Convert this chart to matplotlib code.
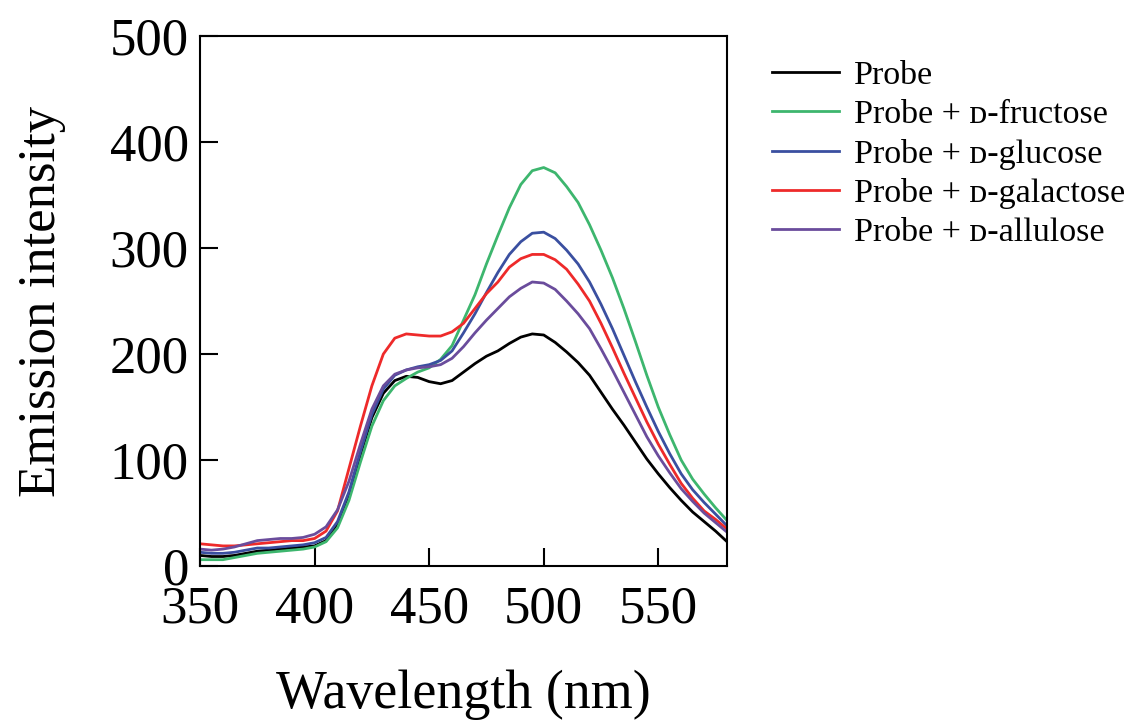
import matplotlib
matplotlib.use("Agg")
import matplotlib.pyplot as plt

plt.rcParams['font.family'] = ['Liberation Serif', 'DejaVu Serif']

wavelength = list(range(350, 581, 5))

probe = [10, 9, 9, 10, 12, 14, 15, 16, 17, 18, 19, 24, 40, 68, 105, 140, 163, 175,
         179, 178, 174, 172, 175, 183, 191, 198, 203, 210, 216, 219, 218, 211, 202,
         192, 180, 164, 148, 133, 117, 101, 87, 74, 62, 51, 42, 33, 23]
fructose = [6, 6, 6, 8, 10, 12, 13, 14, 15, 16, 18, 23, 36, 62, 98, 132, 156, 170,
            177, 183, 187, 195, 208, 232, 256, 285, 312, 338, 360, 373, 376, 371, 358,
            343, 322, 298, 272, 243, 212, 180, 150, 124, 100, 82, 68, 55, 43]
glucose = [13, 12, 12, 13, 15, 17, 17, 18, 19, 20, 22, 27, 42, 70, 108, 143, 167, 180,
           185, 188, 190, 194, 203, 220, 238, 258, 277, 294, 306, 314, 315, 309, 298,
           285, 268, 247, 224, 199, 174, 150, 127, 106, 87, 72, 60, 49, 38]
galactose = [21, 20, 19, 19, 20, 21, 22, 23, 24, 24, 26, 33, 52, 92, 132, 170, 200, 215,
             219, 218, 217, 217, 221, 229, 243, 257, 268, 282, 290, 294, 294, 289, 280,
             266, 250, 229, 206, 182, 159, 136, 115, 96, 78, 64, 52, 44, 35]
allulose = [16, 15, 16, 18, 21, 24, 25, 26, 26, 27, 30, 37, 53, 80, 115, 148, 170, 181,
            185, 187, 188, 190, 196, 207, 220, 232, 243, 254, 262, 268, 267, 261, 250,
            238, 224, 205, 185, 164, 143, 122, 104, 88, 73, 61, 50, 41, 32]

series = [
    ("Probe", probe, "#000000"),
    ("Probe + \u1d05-fructose", fructose, "#3db66e"),
    ("Probe + \u1d05-glucose", glucose, "#3a4fa0"),
    ("Probe + \u1d05-galactose", galactose, "#ee2a2a"),
    ("Probe + \u1d05-allulose", allulose, "#6a4c9c"),
]

fig = plt.figure(figsize=(11.34, 7.22), dpi=100)
ax = fig.add_axes([0.1764, 0.216, 0.4647, 0.734])

for label, values, color in series:
    ax.plot(wavelength, values, color=color, lw=2.0, label=label)

ax.set_xlim(350, 580)
ax.set_ylim(0, 500)
ax.set_xticks([350, 400, 450, 500, 550])
ax.set_yticks([0, 100, 200, 300, 400, 500])
ax.tick_params(direction='in', length=13, width=1.5, labelsize=38)
ax.tick_params(axis='x', pad=14)
ax.tick_params(axis='y', pad=8)
for sp in ax.spines.values():
    sp.set_linewidth(1.5)

ax.set_xlabel("Wavelength (nm)", fontsize=38.8)
ax.set_ylabel("Emission intensity", fontsize=38)
ax.xaxis.set_label_coords(0.5, -0.196)
ax.yaxis.set_label_coords(-0.255, 0.5)

fig.legend(loc='upper left', bbox_to_anchor=(0.669, 0.935), frameon=False,
           fontsize=24.5, handlelength=1.95, handletextpad=0.45, labelspacing=0.24,
           borderaxespad=0)

fig.savefig("out.png", dpi=100)
